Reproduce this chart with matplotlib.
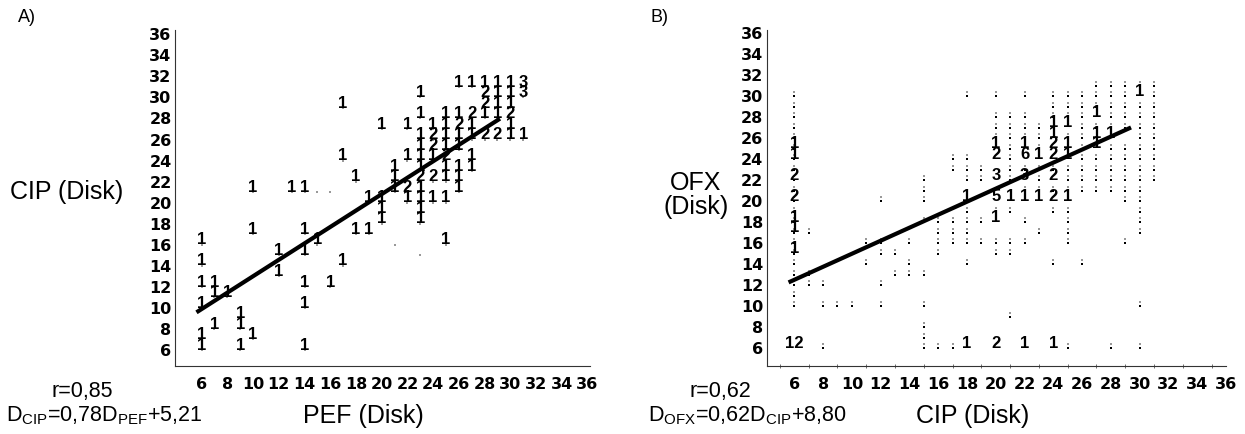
import matplotlib
matplotlib.use("Agg")
import matplotlib.pyplot as plt
from matplotlib import transforms

plt.rcParams['font.family'] = ['Liberation Sans', 'DejaVu Sans']
plt.rcParams['mathtext.fontset'] = 'custom'
plt.rcParams['mathtext.rm'] = 'Liberation Sans'

# ---- data ----
ticks = list(range(6, 37, 2))

# panel A: (PEF disk, CIP disk, number of isolates)
a_counts = [
    (6, 16, 1), (6, 14, 1), (6, 12, 1), (6, 10, 1), (7, 12, 1), (7, 11, 1), (8, 11, 1),
    (7, 8, 1), (6, 7, 1), (6, 6, 1), (9, 9, 1), (9, 8, 1), (9, 6, 1), (10, 7, 1),
    (10, 17, 1), (12, 15, 1), (12, 13, 1), (14, 17, 1), (14, 15, 1), (14, 12, 1),
    (14, 10, 1), (14, 6, 1), (15, 16, 1), (17, 14, 1), (16, 12, 1), (18, 17, 1),
    (19, 17, 1), (25, 16, 1), (10, 21, 1), (13, 21, 1), (14, 21, 1), (17, 29, 1),
    (17, 24, 1), (18, 22, 1), (20, 27, 1), (22, 27, 1), (23, 30, 1), (19, 20, 1),
    (20, 20, 1), (20, 19, 1), (20, 18, 1), (21, 23, 1), (21, 22, 1), (21, 21, 1),
    (22, 24, 1), (22, 21, 2), (22, 20, 1),
    (23, 28, 1), (23, 26, 1), (23, 25, 1), (23, 24, 1), (23, 23, 1), (23, 22, 2),
    (23, 21, 1), (23, 20, 1), (23, 19, 1), (23, 18, 1),
    (24, 27, 1), (24, 26, 2), (24, 25, 2), (24, 24, 1), (24, 22, 2), (24, 20, 1),
    (25, 28, 1), (25, 27, 1), (25, 26, 1), (25, 25, 1), (25, 24, 2), (25, 23, 1),
    (25, 22, 1), (25, 20, 1),
    (26, 31, 1), (26, 28, 1), (26, 27, 2), (26, 26, 1), (26, 25, 1), (26, 23, 1),
    (26, 22, 1), (26, 21, 1),
    (27, 31, 1), (27, 28, 2), (27, 27, 1), (27, 26, 1), (27, 24, 1), (27, 23, 1),
    (28, 31, 1), (28, 30, 2), (28, 29, 2), (28, 28, 1), (28, 26, 2),
    (29, 31, 1), (29, 30, 1), (29, 29, 1), (29, 28, 1), (29, 26, 2),
    (30, 31, 1), (30, 30, 1), (30, 29, 1), (30, 28, 2), (30, 27, 1), (30, 26, 1),
    (31, 31, 3), (31, 30, 3), (31, 26, 1),
]
a_extra_dots = [(15, 21), (16, 21), (21, 16), (23, 15)]

# panel B: (CIP disk, OFX disk, number of isolates)
b_counts = [
    (6, 25, 1), (6, 24, 1), (6, 22, 2), (6, 20, 2), (6, 18, 1), (6, 17, 1), (6, 15, 1),
    (6, 6, 12), (18, 20, 1), (20, 25, 1), (20, 24, 2), (20, 22, 3), (20, 20, 5),
    (20, 18, 1), (21, 20, 1), (22, 25, 1), (22, 24, 6), (22, 22, 3), (22, 20, 1),
    (23, 24, 1), (23, 20, 1), (24, 27, 1), (24, 26, 1), (24, 25, 2), (24, 24, 2),
    (24, 22, 2), (24, 20, 2), (25, 27, 1), (25, 25, 1), (25, 24, 1), (25, 20, 1),
    (27, 28, 1), (27, 26, 1), (27, 25, 1), (28, 26, 1), (30, 30, 1),
    (18, 6, 1), (20, 6, 2), (22, 6, 1), (24, 6, 1),
]
b_dots = {
    6: list(range(10, 31)),
    7: [17, 13, 12],
    8: [12, 10, 6],
    9: [10],
    10: [10],
    11: [16, 14],
    12: [20, 16, 15, 12, 10],
    13: [15, 13],
    14: [16, 14, 13],
    15: [22, 21, 20, 18, 13, 10, 8, 7, 6],
    16: [18, 17, 16, 15, 6],
    17: [24, 23, 18, 17, 16, 6],
    18: [30, 24, 23, 22, 19, 18, 17, 16, 14],
    19: [23, 22, 18, 16],
    20: [30, 28, 27, 26, 19, 16, 15],
    21: [28, 27, 26, 25, 24, 23, 22, 19, 16, 15, 9],
    22: [30, 28, 27, 26, 23, 21, 18, 16],
    23: [27, 26, 25, 23, 22, 21, 17],
    24: [30, 29, 28, 23, 21, 19, 14],
    25: [30, 29, 28, 26, 23, 22, 21, 19, 18, 17, 16, 6],
    26: [30, 29, 28, 27, 26, 25, 24, 23, 22, 21, 14],
    27: [31, 30, 29, 27, 24, 23, 22, 21],
    28: [31, 30, 29, 28, 27, 25, 24, 23, 22, 21, 6],
    29: [31, 30, 29, 28, 27, 25, 24, 23, 22, 21, 20, 16],
    30: [31, 29, 28, 27, 26, 25, 24, 23, 22, 21, 20, 19, 18, 17, 10, 6],
    31: [31, 30, 29, 28, 27, 26, 25, 24, 23, 22],
}

# regression lines (slope, intercept) and x range drawn
a_fit = (0.78, 5.21)
a_line_x = [5.6, 29.2]
b_fit = (0.62, 8.80)
b_line_x = [5.6, 29.4]

W, H = 1245, 434
fig = plt.figure(figsize=(W / 100, H / 100), dpi=100)


def setup(ax, xlim, ylim, minor=False):
    ax.set_xlim(*xlim)
    ax.set_ylim(*ylim)
    ax.spines['top'].set_visible(False)
    ax.spines['right'].set_visible(False)
    for s in ['left', 'bottom']:
        ax.spines[s].set_linewidth(0.8)
        ax.spines[s].set_color('#333333')
    ax.set_xticks(ticks)
    ax.set_yticks(ticks)
    ax.tick_params(axis='x', length=0, pad=8)
    ax.tick_params(axis='y', length=0, pad=2.5)
    if minor:
        ax.set_xticks(range(5, 37), minor=True)
        ax.tick_params(axis='x', which='minor', length=3, width=0.6,
                       direction='inout', color='#555555')
    for lab in ax.get_xticklabels() + ax.get_yticklabels():
        lab.set_fontfamily('DejaVu Sans')
        lab.set_fontweight('bold')
        lab.set_fontsize(11.5)


def draw_counts(ax, counts):
    for x, y, n in counts:
        ax.annotate(str(n), (x, y), xytext=(0, 3.5), textcoords='offset points',
                    ha='center', va='center', fontsize=12, fontweight='bold',
                    color='black', zorder=3)


# panel A
axA = fig.add_axes([175 / W, 1 - 366 / H, 415 / W, 336 / H])
setup(axA, (3.93, 36.2), (4.48, 36.41))
ax_pts = [c[0] for c in a_counts] + [d[0] for d in a_extra_dots]
ay_pts = [c[1] for c in a_counts] + [d[1] for d in a_extra_dots]
axA.scatter(ax_pts, ay_pts, s=1.5, marker='s', c='#999999', linewidths=0, zorder=2)
draw_counts(axA, a_counts)
axA.plot(a_line_x, [a_fit[0] * x + a_fit[1] for x in a_line_x],
         color='black', lw=3, solid_capstyle='butt', zorder=4)

# panel B
axB = fig.add_axes([766.7 / W, 1 - 366 / H, 459.3 / W, 336 / H])
setup(axB, (4.08, 36.0), (4.31, 36.31), minor=True)
bx = [x for x, ys in b_dots.items() for _ in ys]
by = [y for ys in b_dots.values() for y in ys]
shift = transforms.offset_copy(axB.transData, fig=fig, x=0, y=4, units='dots')
axB.scatter(bx, by, s=3.5, marker='s', c='black', linewidths=0, zorder=2)
axB.scatter(bx, by, s=1.5, marker='s', c='#999999', linewidths=0, zorder=2,
            transform=shift)
draw_counts(axB, b_counts)
axB.plot(b_line_x, [b_fit[0] * x + b_fit[1] for x in b_line_x],
         color='black', lw=3, solid_capstyle='butt', zorder=4)


def ftext(px, py, s, **kw):
    fig.text(px / W, 1 - py / H, s, ha='center', va='center', **kw)


ftext(27, 18, 'A)', fontsize=13)
ftext(67, 192, 'CIP (Disk)', fontsize=18)
ftext(82, 391, 'r=0,85', fontsize=15.5)
ftext(104, 416, r'D$_{\mathrm{CIP}}$=0,78D$_{\mathrm{PEF}}$+5,21', fontsize=15.5)
ftext(363, 416, 'PEF (Disk)', fontsize=18)

ftext(660, 18, 'B)', fontsize=13)
ftext(696, 195, 'OFX\n(Disk)', fontsize=18, linespacing=0.95)
ftext(720, 391, 'r=0,62', fontsize=15.5)
ftext(747, 416, r'D$_{\mathrm{OFX}}$=0,62D$_{\mathrm{CIP}}$+8,80', fontsize=15.5)
ftext(973, 416, 'CIP (Disk)', fontsize=18)

fig.savefig('out.png', dpi=100)
